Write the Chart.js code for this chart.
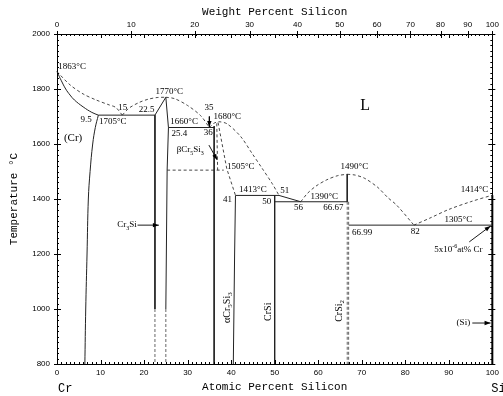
<!DOCTYPE html>
<html>
<head>
<meta charset="utf-8">
<script src="https://cdn.jsdelivr.net/npm/chart.js@4.4.1/dist/chart.umd.min.js"></script>
<style>
  html, body { margin: 0; padding: 0; background: #fff; }
</style>
</head>
<body>
<canvas id="c" width="503" height="396"></canvas>
<script>
'use strict';

// ── 軸 ───────────────────────────────────────────
const wtTicks = [0, 10, 20, 30, 40, 50, 60, 70, 80, 90, 100];
const tempMin = 800, tempMax = 2000;

// ── 実線 (at% Si, °C) ────────────────────────────
const crSolidus     = [[0,1863],[1,1830],[2,1800],[3,1778],[4,1760],[6,1735],[8,1715],[9.5,1705]];
const crSolvus      = [[9.5,1705],[8.8,1660],[8.2,1600],[7.6,1500],[7.2,1400],[6.9,1200],[6.6,1000],[6.4,800]];
const eut1705       = [[9.5,1705],[22.5,1705]];
const cr3SiLeft     = [[22.5,1705],[22.5,1000]];
const cr3SiTop      = [[22.5,1705],[25,1770],[25.6,1660]];
const cr3SiRight    = [[25.6,1660],[25.3,1505],[25,1000]];
const eut1660       = [[25.6,1660],[36.1,1660]];
const cr5Si3Left    = [[36.1,1665],[36.1,800]];
const cr5Si3Right   = [[41,1413],[40.8,1200],[40.5,800]];
const per1413       = [[41,1413],[51,1413]];
const crSiLine      = [[50,1413],[50,800]];
const liq51to56     = [[51,1413],[56,1390]];
const eut1390       = [[50,1390],[66.67,1390]];
const crSi2Top      = [[66.67,1490],[66.67,1390]];
const eut1305       = [[66.99,1305],[100,1305]];
const siLine        = [[100,1414],[100,800]];

// ── 破線 ─────────────────────────────────────────
const liqCr         = [[0,1863],[3,1815],[6,1782],[9,1760],[12,1742],[13.5,1733],[15,1705]];
const liqCr3SiL     = [[15,1705],[16.5,1730],[19,1752],[21,1763],[23,1769],[25,1770]];
const liqCr3SiR     = [[25,1770],[27,1765],[30,1740],[33,1703],[35,1660]];
const liqCr5Si3     = [[35,1660],[36,1675],[37.2,1681],[39.1,1673],[42.2,1627],[44.8,1566],[47.1,1512],[49.4,1457],[51,1413]];
const betaRight     = [[37,1678],[39,1510],[41,1413]];
const betaLeft      = [[36.7,1675],[36.9,1505]];
const eutd1505      = [[25.3,1505],[38.3,1505]];
const liqCrSi2L     = [[56,1390],[57.5,1420],[59.5,1447],[62,1470],[64.5,1485],[66.67,1490]];
const liqCrSi2R     = [[66.67,1490],[68.5,1487],[70.7,1475],[73.7,1442],[76,1405],[78,1378],[82,1305]];
const liqSi         = [[82,1305],[86,1333],[90,1362],[95,1390],[100,1414]];
const cr3SiLowA     = [[22.5,1000],[22.5,800]];
const cr3SiLowB     = [[25,1000],[25,800]];
const crSi2LowA     = [[66.67,1390],[66.67,800]];
const crSi2LowB     = [[66.99,1390],[66.99,800]];

// ── 矢印 ─────────────────────────────────────────
const arrows = [
  [[35,1700],[35,1662]],
  [[34.9,1596],[36.8,1542]],
  [[18.5,1305],[23.4,1305]],
  [[94.7,1244],[99.6,1302]],
  [[95.4,949],[99.6,949]],
];

// ── ラベル [at%, °C, text, align] ────────────────
const notes = [
  [0.3, 1880, '1863°C', 'left'],
  [15.1, 1731, '15', 'center'],
  [22.4, 1724, '22.5', 'right'],
  [8.0, 1687, '9.5', 'right'],
  [12.8, 1680, '1705°C', 'center'],
  [25.8, 1789, '1770°C', 'center'],
  [29.2, 1681, '1660°C', 'center'],
  [28.1, 1639, '25.4', 'center'],
  [34.9, 1731, '35', 'center'],
  [35.8, 1640, '36', 'right'],
  [39.1, 1699, '1680°C', 'center'],
  [30.6, 1578, 'βCr_5Si_3', 'center'],
  [42.2, 1517, '1505°C', 'center'],
  [45.0, 1433, '1413°C', 'center'],
  [40.2, 1396, '41', 'right'],
  [52.3, 1429, '51', 'center'],
  [49.2, 1390, '50', 'right'],
  [55.5, 1367, '56', 'center'],
  [61.4, 1408, '1390°C', 'center'],
  [63.5, 1367, '66.67', 'center'],
  [68.3, 1516, '1490°C', 'center'],
  [70.1, 1276, '66.99', 'center'],
  [82.3, 1281, '82', 'center'],
  [92.2, 1324, '1305°C', 'center'],
  [95.9, 1433, '1414°C', 'center'],
  [92.2, 1215, '5x10^{-6}at% Cr', 'center'],
  [18.3, 1305, 'Cr_3Si', 'right'],
  [94.9, 949, '(Si)', 'right'],
];
const bigNotes = [
  [3.7, 1622, '(Cr)', 11],
  [70.8, 1738, 'L', 16],
];
const vertNotes = [
  [39.1, 1005, 'αCr_5Si_3'],
  [48.6, 990, 'CrSi'],
  [64.8, 993, 'CrSi_2'],
];

// wt% → at%
function wtToAt(w) {
  const si = w / 28.086, cr = (100 - w) / 51.996;
  return si / (si + cr) * 100;
}

// ── データセット ─────────────────────────────────
const solid = [crSolidus, crSolvus, eut1705, cr3SiLeft, cr3SiTop, cr3SiRight, eut1660,
  cr5Si3Left, cr5Si3Right, per1413, crSiLine, liq51to56, eut1390, crSi2Top, eut1305];
const curved = [crSolidus, crSolvus];
const dashed = [liqCr, liqCr3SiL, liqCr3SiR, liqCr5Si3, betaRight, betaLeft, eutd1505,
  liqCrSi2L, liqCrSi2R, liqSi];
const dashedGray = [cr3SiLowA, cr3SiLowB, crSi2LowA, crSi2LowB];

const pts = arr => arr.map(([x, y]) => ({ x, y }));
const base = { showLine: true, pointRadius: 0, fill: false, clip: false };

const datasets = [];
solid.forEach(a => datasets.push({ ...base, data: pts(a), borderColor: '#222', borderWidth: 1,
  tension: curved.includes(a) ? 0.4 : 0 }));
dashed.forEach(a => datasets.push({ ...base, data: pts(a), borderColor: '#333', borderWidth: 0.9,
  borderDash: [3, 2.5], tension: a.length > 3 ? 0.3 : 0 }));
dashedGray.forEach(a => datasets.push({ ...base, data: pts(a), borderColor: '#666', borderWidth: 1,
  borderDash: [3, 2] }));
datasets.push({ ...base, data: pts(siLine), borderColor: '#000', borderWidth: 2 });
arrows.forEach(a => datasets.push({ ...base, data: pts(a), borderColor: '#000', borderWidth: 0.9 }));

// ── 添字つき文字 ─────────────────────────────────
function parseRich(str) {
  const segs = [];
  let i = 0;
  while (i < str.length) {
    const c = str[i];
    if (c === '_' || c === '^') {
      let t;
      if (str[i + 1] === '{') { const j = str.indexOf('}', i); t = str.slice(i + 2, j); i = j + 1; }
      else { t = str[i + 1]; i += 2; }
      segs.push({ t, mode: c === '_' ? 'sub' : 'sup' });
    } else {
      let j = i;
      while (j < str.length && str[j] !== '_' && str[j] !== '^') j++;
      segs.push({ t: str.slice(i, j), mode: null });
      i = j;
    }
  }
  return segs;
}

function drawRich(ctx, str, x, y, align, size, family) {
  const segs = parseRich(str);
  const fontFor = m => (m ? Math.round(size * 0.72) : size) + 'px ' + family;
  let total = 0;
  segs.forEach(s => { ctx.font = fontFor(s.mode); s.w = ctx.measureText(s.t).width; total += s.w; });
  let cx = align === 'left' ? x : align === 'right' ? x - total : x - total / 2;
  ctx.textAlign = 'left';
  ctx.textBaseline = 'middle';
  segs.forEach(s => {
    ctx.font = fontFor(s.mode);
    const dy = s.mode === 'sub' ? size * 0.32 : s.mode === 'sup' ? -size * 0.38 : 0;
    ctx.fillText(s.t, cx, y + dy);
    cx += s.w;
  });
}

// ── プラグイン：目盛り・矢じり・注記 ─────────────
const decor = {
  id: 'decor',
  afterDraw(chart) {
    const { ctx, chartArea: a, scales: { x, y, x2 } } = chart;
    ctx.save();
    ctx.strokeStyle = '#000';
    ctx.lineWidth = 1;
    ctx.beginPath();
    for (let v = 0; v <= 100; v++) {
      const px = Math.round(x.getPixelForValue(v)) + 0.5;
      const len = v % 10 === 0 ? 4 : 2;
      ctx.moveTo(px, a.bottom); ctx.lineTo(px, a.bottom - len);
      ctx.moveTo(px, a.top); ctx.lineTo(px, a.top + len);
    }
    for (let t = tempMin; t <= tempMax; t += 20) {
      const py = Math.round(y.getPixelForValue(t)) + 0.5;
      const major = t % 200 === 0;
      ctx.moveTo(a.left - (major ? 3 : 0), py); ctx.lineTo(a.left + (major ? 4 : 2), py);
      ctx.moveTo(a.right + (major ? 3 : 0), py); ctx.lineTo(a.right - (major ? 4 : 2), py);
    }
    wtTicks.forEach(w => {
      const px = Math.round(x2.getPixelForValue(wtToAt(w))) + 0.5;
      ctx.moveTo(px, a.top - 3); ctx.lineTo(px, a.top + 4);
    });
    ctx.stroke();

    // 矢じり
    ctx.fillStyle = '#000';
    arrows.forEach(([p0, p1]) => {
      const x0 = x.getPixelForValue(p0[0]), y0 = y.getPixelForValue(p0[1]);
      const x1 = x.getPixelForValue(p1[0]), y1 = y.getPixelForValue(p1[1]);
      const ang = Math.atan2(y1 - y0, x1 - x0);
      const L = 6, W = 2.2;
      ctx.beginPath();
      ctx.moveTo(x1, y1);
      ctx.lineTo(x1 - L * Math.cos(ang) + W * Math.sin(ang), y1 - L * Math.sin(ang) - W * Math.cos(ang));
      ctx.lineTo(x1 - L * Math.cos(ang) - W * Math.sin(ang), y1 - L * Math.sin(ang) + W * Math.cos(ang));
      ctx.closePath();
      ctx.fill();
    });

    // 注記
    const serif = '"Liberation Serif", serif';
    notes.forEach(([v, t, s, al]) => drawRich(ctx, s, x.getPixelForValue(v), y.getPixelForValue(t), al, 9, serif));
    bigNotes.forEach(([v, t, s, sz]) => drawRich(ctx, s, x.getPixelForValue(v), y.getPixelForValue(t), 'center', sz, serif));
    vertNotes.forEach(([v, t, s]) => {
      ctx.save();
      ctx.translate(x.getPixelForValue(v), y.getPixelForValue(t));
      ctx.rotate(-Math.PI / 2);
      drawRich(ctx, s, 0, 0, 'center', 10, serif);
      ctx.restore();
    });

    // 元素名
    ctx.font = '12px "Liberation Mono", monospace';
    ctx.textBaseline = 'middle';
    ctx.textAlign = 'left';
    ctx.fillText('Cr', x.getPixelForValue(0) + 1, a.bottom + 25);
    ctx.fillText('Si', x.getPixelForValue(100) - 1, a.bottom + 25);
    ctx.restore();
  }
};

const tickFont = { family: '"Liberation Sans", sans-serif', size: 8 };
const titleFont = { family: '"Liberation Mono", monospace', size: 11 };
const noGrid = { display: false, drawTicks: false };
const border = { display: true, color: '#000', width: 1 };

new Chart(document.getElementById('c'), {
  type: 'scatter',
  data: { datasets },
  plugins: [decor],
  options: {
    responsive: false,
    animation: false,
    devicePixelRatio: 1,
    layout: { padding: 0 },
    plugins: { legend: { display: false }, tooltip: { enabled: false } },
    scales: {
      x: {
        type: 'linear', position: 'bottom', min: 0, max: 100,
        ticks: { stepSize: 10, font: tickFont, color: '#000', padding: 4, maxRotation: 0, autoSkip: false },
        grid: noGrid, border,
        title: { display: true, text: 'Atomic Percent Silicon', font: titleFont, color: '#000', padding: { top: 0, bottom: 2.4 } },
        afterFit: s => { s.height = 32; },
      },
      x2: {
        type: 'linear', position: 'top', min: 0, max: 100,
        afterBuildTicks: s => { s.ticks = wtTicks.map(w => ({ value: wtToAt(w) })); },
        ticks: { callback: (v, i) => String(wtTicks[i]), font: tickFont, color: '#000', padding: 4, maxRotation: 0, autoSkip: false },
        grid: noGrid, border,
        title: { display: true, text: 'Weight Percent Silicon', font: titleFont, color: '#000', padding: { top: 5.4, bottom: 0 } },
        afterFit: s => { s.height = 34; },
      },
      y: {
        type: 'linear', position: 'left', min: tempMin, max: tempMax,
        ticks: { stepSize: 200, font: tickFont, color: '#000', padding: 7, callback: v => String(v) },
        grid: noGrid, border,
        title: { display: true, text: 'Temperature °C', font: titleFont, color: '#000', padding: { top: 7.4, bottom: 0 } },
        afterFit: s => { s.width = 57; },
      },
      y2: {
        type: 'linear', position: 'right', min: tempMin, max: tempMax,
        ticks: { display: false },
        grid: noGrid, border,
        afterFit: s => { s.width = 8; },
      },
    },
  },
});
</script>
</body>
</html>
